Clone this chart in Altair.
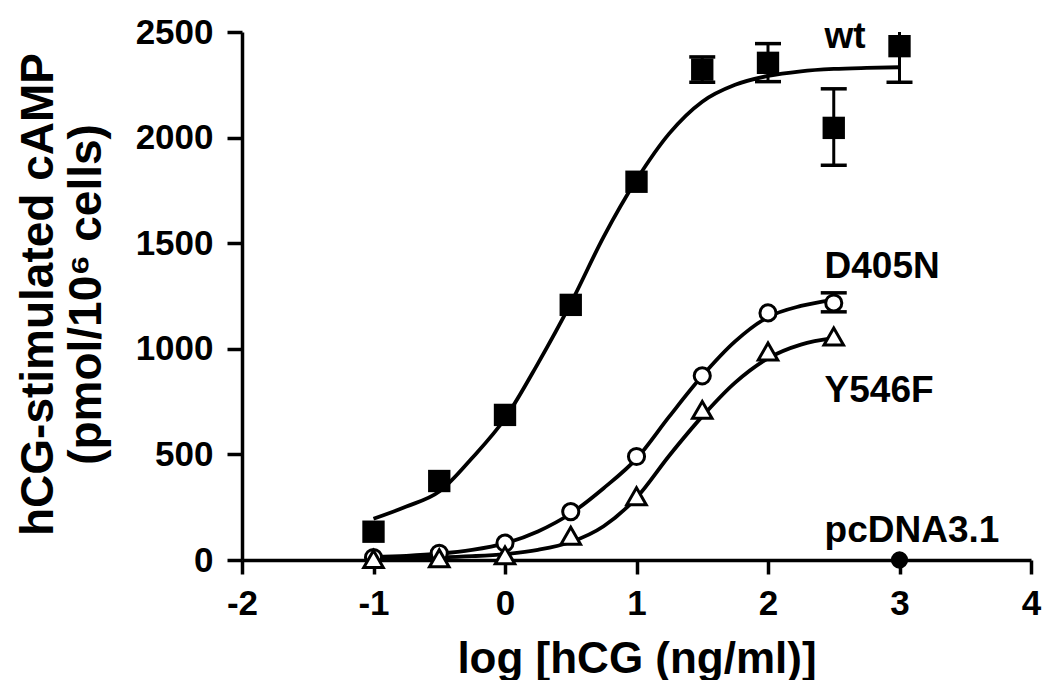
import altair as alt
import pandas as pd

# ---------------- data ----------------
# measured points
wt_x = [-1, -0.5, 0, 0.5, 1, 1.5, 2, 2.5, 3]
wt_y = [134, 374, 687, 1208, 1791, 2322, 2354, 2046, 2433]

d405n_x = [-1, -0.5, 0, 0.5, 1, 1.5, 2, 2.5]
d405n_y = [12, 32, 80, 229, 490, 872, 1170, 1217]

y546f_x = [-1, -0.5, 0, 0.5, 1, 1.5, 2, 2.5]
y546f_y = [5, 8, 22, 115, 302, 711, 987, 1058]

pcdna_x = [3]
pcdna_y = [0]

# error bars (SEM)
err_x = [1.5, 2, 2.5, 3, 2.5]
err_lo = [2262, 2265, 1869, 2262, 1175]
err_hi = [2382, 2445, 2231, 2520, 1265]

# fitted curves
wt_cx = [-1, -0.75, -0.5, -0.25, 0, 0.25, 0.5, 0.75, 1, 1.25, 1.5, 1.75, 2, 2.25, 2.5, 2.75, 3]
wt_cy = [195, 253, 324, 483, 670, 930, 1215, 1530, 1800, 2020, 2170, 2250, 2292, 2314, 2325, 2330, 2333]

d405n_cx = [-1, -0.75, -0.5, -0.25, 0, 0.25, 0.5, 0.75, 1, 1.25, 1.5, 1.75, 2, 2.25, 2.5]
d405n_cy = [15, 20, 30, 48, 79, 135, 220, 340, 480, 680, 872, 1035, 1150, 1203, 1232]

y546f_cx = [-1, -0.75, -0.5, -0.25, 0, 0.25, 0.5, 0.75, 1, 1.25, 1.5, 1.75, 2, 2.25, 2.5]
y546f_cy = [8, 9, 12, 18, 28, 48, 85, 160, 295, 495, 680, 840, 955, 1020, 1050]

# series labels
lbl_text = ["wt", "D405N", "Y546F", "pcDNA3.1"]
lbl_x = [2.43, 2.43, 2.43, 2.43]
lbl_y = [2425, 1336, 749, 85]

x_ticks = [-2, -1, 0, 1, 2, 3, 4]
y_ticks = [0, 500, 1000, 1500, 2000, 2500]

FONT = "Liberation Sans"

# ---------------- tables ----------------
curves = pd.concat([
    pd.DataFrame({"x": wt_cx, "y": wt_cy, "s": "wt"}),
    pd.DataFrame({"x": d405n_cx, "y": d405n_cy, "s": "D405N"}),
    pd.DataFrame({"x": y546f_cx, "y": y546f_cy, "s": "Y546F"}),
])
wt_df = pd.DataFrame({"x": wt_x, "y": wt_y})
d_df = pd.DataFrame({"x": d405n_x, "y": d405n_y})
t_df = pd.DataFrame({"x": y546f_x, "y": y546f_y})
p_df = pd.DataFrame({"x": pcdna_x, "y": pcdna_y})
err_df = pd.DataFrame({"x": err_x, "y": err_lo, "hi": err_hi})
cap_df = pd.DataFrame({"x": err_x + err_x, "y": err_lo + err_hi})
lbl_df = pd.DataFrame({"t": lbl_text, "x": lbl_x, "y": lbl_y})

xs = alt.Scale(domain=[-2, 4], nice=False, zero=False)
ys = alt.Scale(domain=[0, 2500], nice=False)

PLOT_W = 789

x_axis = alt.Axis(
    values=x_ticks, grid=False, labelExpr="'' + datum.value",
    domainColor="black", domainWidth=3.5, tickColor="black", tickWidth=3.5,
    tickSize=14, labelFont=FONT, labelFontSize=35, labelFontWeight="bold",
    labelColor="black", labelPadding=12, labelFlush=False, labelOverlap=False,
    title="log [hCG (ng/ml)]", titleFont=FONT, titleFontSize=44,
    titleFontWeight="bold", titleColor="black", titleX=PLOT_W / 2, titleY=112,
    titleBaseline="alphabetic", titleAlign="center",
)
y_axis = alt.Axis(
    values=y_ticks, grid=False, labelExpr="'' + datum.value",
    domainColor="black", domainWidth=3.5, tickColor="black", tickWidth=3.5,
    tickSize=15, labelFont=FONT, labelFontSize=35, labelFontWeight="bold",
    labelColor="black", labelPadding=14, labelFlush=False, labelOverlap=False,
    title=["hCG-stimulated cAMP", "(pmol/10⁶ cells)"], titleFont=FONT,
    titleFontSize=46, titleFontWeight="bold", titleColor="black",
    titleAngle=270, titleBaseline="bottom", titleAlign="center",
    titleX=-180, titleY=262, titleLineHeight=48,
)

X = alt.X("x:Q", scale=xs, axis=x_axis)
Y = alt.Y("y:Q", scale=ys, axis=y_axis)

line_layer = alt.Chart(curves).mark_line(
    color="black", strokeWidth=3.8, interpolate="monotone"
).encode(x=X, y=Y, detail="s:N")

err_rule = alt.Chart(err_df).mark_rule(
    color="black", strokeWidth=3, clip=True, opacity=1
).encode(x=X, y=Y, y2="hi:Q")
caps = alt.Chart(cap_df).mark_tick(
    color="black", orient="horizontal", size=26, thickness=3.5, clip=True,
    opacity=1
).encode(x=X, y=Y)

wt_pts = alt.Chart(wt_df).mark_point(
    shape="square", filled=True, color="black", size=500, opacity=1
).encode(x=X, y=Y)
d_pts = alt.Chart(d_df).mark_point(
    shape="circle", filled=False, fill="white", fillOpacity=1, stroke="black",
    strokeWidth=3, size=260, opacity=1
).encode(x=X, y=Y)
t_pts = alt.Chart(t_df).mark_point(
    shape="triangle-up", filled=False, fill="white", fillOpacity=1, stroke="black",
    strokeWidth=3, size=380, opacity=1
).encode(x=X, y=Y)
p_pts = alt.Chart(p_df).mark_point(
    shape="circle", filled=True, color="black", size=300, opacity=1
).encode(x=X, y=Y)

labels = alt.Chart(lbl_df).mark_text(
    align="left", baseline="alphabetic", font=FONT, fontSize=37,
    fontWeight="bold", color="black"
).encode(x=X, y=Y, text="t:N")

chart = alt.layer(
    line_layer, err_rule, caps, wt_pts, d_pts, t_pts, p_pts, labels
).properties(
    width=PLOT_W, height=528,
    background="white",
    autosize=alt.AutoSizeParams(type="none"),
    padding={"left": 234, "top": 24, "right": 11, "bottom": 120},
).configure_view(stroke=None)

chart.save("out.html", embed_options={"renderer": "svg", "actions": False})
